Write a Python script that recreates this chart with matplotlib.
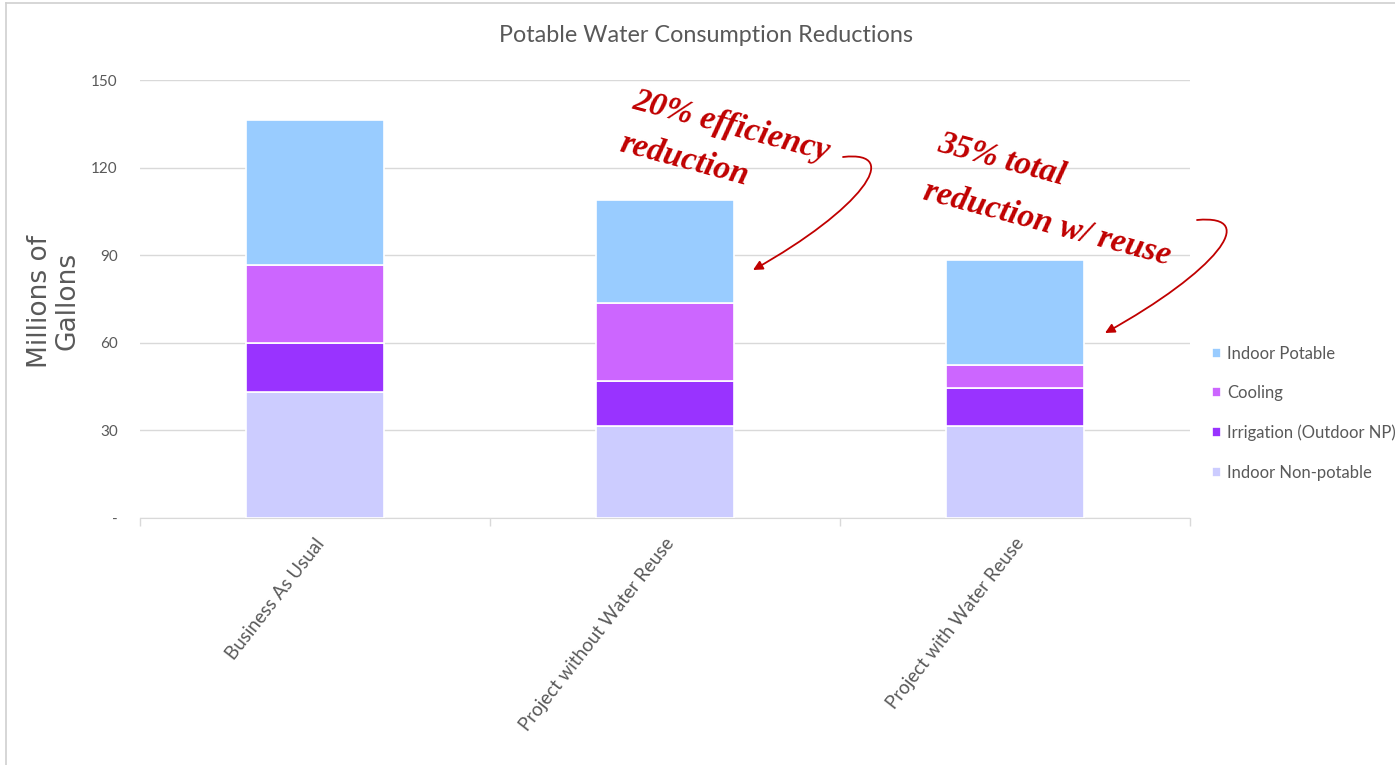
import numpy as np
import matplotlib.pyplot as plt
from matplotlib.patches import FancyArrowPatch
from matplotlib.path import Path
from matplotlib.lines import Line2D
from matplotlib.transforms import ScaledTranslation

# Scenario totals by end use (millions of gallons)
scenarios = ['Business As Usual', 'Project without Water Reuse', 'Project with Water Reuse']
indoor_nonpotable = [43.2, 31.5, 31.5]
irrigation = [16.7, 15.4, 13.0]
cooling = [26.7, 26.7, 7.9]
indoor_potable = [49.7, 35.3, 36.0]

series_names = ['Indoor Non-potable', 'Irrigation (Outdoor NP)', 'Cooling', 'Indoor Potable']
series_colors = ['#CCCCFF', '#9933FF', '#CC66FF', '#99CCFF']

y_ticks = [0, 30, 60, 90, 120, 150]
y_tick_labels = ['-', '30', '60', '90', '120', '150']

W, H = 1395, 765
grey = '#595959'

fig = plt.figure(figsize=(W / 100, H / 100), dpi=100)
ax = fig.add_axes([140 / W, 1 - 518 / H, 1050 / W, 438 / H])

x = np.arange(len(scenarios))
bottom = np.zeros(len(scenarios))
handles = []
for vals, name, col in zip([indoor_nonpotable, irrigation, cooling, indoor_potable],
                           series_names, series_colors):
    b = ax.bar(x, vals, width=0.394, bottom=bottom, color=col, edgecolor='white',
               linewidth=1.2, label=name, zorder=3)
    handles.append(b)
    bottom += np.array(vals)

ax.set_xlim(-0.5, 2.5)
ax.set_ylim(0, 150)
ax.set_yticks(y_ticks)
ax.set_yticklabels(y_tick_labels, fontfamily='Lato', fontsize=11, color=grey)
ax.tick_params(axis='y', length=0, pad=16)
ax.yaxis.grid(True, color='#D9D9D9', linewidth=1, zorder=0)
ax.set_axisbelow(True)

ax.set_xticks(x)
ax.set_xticklabels(scenarios, rotation=52, ha='right', va='center',
                   rotation_mode='anchor', fontfamily='Lato', fontsize=13.5, color=grey)
ax.tick_params(axis='x', which='major', length=0, pad=16)
ax.set_xticks([-0.5, 0.5, 1.5, 2.5], minor=True)
ax.tick_params(axis='x', which='minor', length=6, color='#D9D9D9', width=1)
for lbl in ax.get_xticklabels():
    lbl.set_transform(lbl.get_transform() + ScaledTranslation(6 / 100, 0, fig.dpi_scale_trans))

for s in ['left', 'right', 'top']:
    ax.spines[s].set_visible(False)
ax.spines['bottom'].set_color('#D9D9D9')

fig.text(706 / W, 1 - 36 / H, 'Potable Water Consumption Reductions', ha='center', va='center',
         fontfamily='Lato', fontsize=16.8, color=grey)
fig.text(54 / W, 1 - 301 / H, 'Millions of\nGallons', ha='center', va='center', rotation=90,
         fontfamily='DejaVu Sans', fontsize=19, color=grey, linespacing=1.1)

leg = ax.legend(handles[::-1], series_names[::-1], loc='upper left',
                bbox_to_anchor=(1197 / W, 1 - 331 / H), bbox_transform=fig.transFigure,
                frameon=False, handlelength=0.55, handleheight=0.55, handletextpad=0.35,
                labelspacing=1.4, prop={'family': 'Lato', 'size': 12})
for t in leg.get_texts():
    t.set_color(grey)

# hand-written style call-outs
red = '#C00000'
note_kw = dict(ha='center', va='center', rotation=-15, rotation_mode='anchor',
               fontfamily='Liberation Serif', fontstyle='italic', fontweight='bold',
               fontsize=24, color=red)
fig.text(731 / W, 1 - 126 / H, '20% efficiency', **note_kw)
fig.text(684 / W, 1 - 160 / H, 'reduction', **note_kw)
fig.text(1002 / W, 1 - 160 / H, '35% total', **note_kw)
fig.text(1047 / W, 1 - 224 / H, 'reduction w/ reuse', **note_kw)


def px(pts):
    return [(a / W, 1 - b / H) for a, b in pts]


for pts in ([(843, 157), (905, 150), (860, 210), (753, 270)],
            [(1197, 220), (1262, 214), (1215, 272), (1105, 333)]):
    path = Path(px(pts), [Path.MOVETO, Path.CURVE4, Path.CURVE4, Path.CURVE4])
    arr = FancyArrowPatch(path=path, arrowstyle='-|>', mutation_scale=14, color=red,
                          linewidth=1.3, transform=fig.transFigure)
    fig.patches.append(arr)

# thin frame along the top and left edge
fig.add_artist(Line2D([6 / W, 1], [1 - 3 / H, 1 - 3 / H], color='#D0D0D0', linewidth=1.2,
                      transform=fig.transFigure))
fig.add_artist(Line2D([6 / W, 6 / W], [0, 1 - 3 / H], color='#D0D0D0', linewidth=1.2,
                      transform=fig.transFigure))

fig.savefig('out.png', dpi=100)
